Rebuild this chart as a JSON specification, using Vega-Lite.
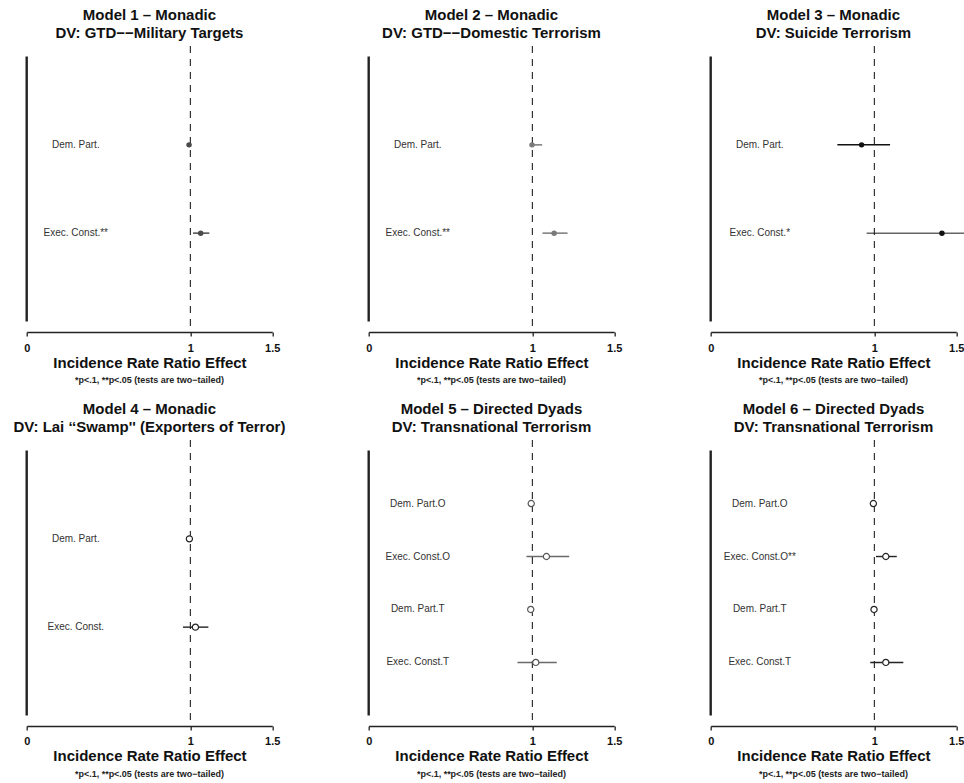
{
  "$schema": "https://vega.github.io/schema/vega-lite/v6.json",
  "background": "white",
  "padding": {"left": 12.7, "top": 8, "right": 0, "bottom": 0},
  "datasets": {
    "est": [
      {"model": 1, "label": "Dem. Part.", "rank": 2, "irr": 0.992, "lo": 0.986, "hi": 0.998},
      {"model": 1, "label": "Exec. Const.**", "rank": 1, "irr": 1.063, "lo": 1.016, "hi": 1.116},
      {"model": 2, "label": "Dem. Part.", "rank": 2, "irr": 0.998, "lo": 0.985, "hi": 1.06},
      {"model": 2, "label": "Exec. Const.**", "rank": 1, "irr": 1.133, "lo": 1.062, "hi": 1.215},
      {"model": 3, "label": "Dem. Part.", "rank": 2, "irr": 0.922, "lo": 0.774, "hi": 1.096},
      {"model": 3, "label": "Exec. Const.*", "rank": 1, "irr": 1.413, "lo": 0.953, "hi": 1.55},
      {"model": 4, "label": "Dem. Part.", "rank": 2, "irr": 0.994, "lo": 0.99, "hi": 0.998},
      {"model": 4, "label": "Exec. Const.", "rank": 1, "irr": 1.031, "lo": 0.955, "hi": 1.11},
      {"model": 5, "label": "Dem. Part.O", "rank": 4, "irr": 0.993, "lo": 0.985, "hi": 1.005},
      {"model": 5, "label": "Exec. Const.O", "rank": 3, "irr": 1.086, "lo": 0.964, "hi": 1.225},
      {"model": 5, "label": "Dem. Part.T", "rank": 2, "irr": 0.99, "lo": 0.984, "hi": 1.0},
      {"model": 5, "label": "Exec. Const.T", "rank": 1, "irr": 1.021, "lo": 0.909, "hi": 1.149},
      {"model": 6, "label": "Dem. Part.O", "rank": 4, "irr": 0.994, "lo": 0.99, "hi": 1.0},
      {"model": 6, "label": "Exec. Const.O**", "rank": 3, "irr": 1.07, "lo": 1.01, "hi": 1.137},
      {"model": 6, "label": "Dem. Part.T", "rank": 2, "irr": 0.998, "lo": 0.993, "hi": 1.004},
      {"model": 6, "label": "Exec. Const.T", "rank": 1, "irr": 1.07, "lo": 0.975, "hi": 1.177}
    ]
  },
  "columns": 3,
  "spacing": {"row": 108, "column": 96},
  "bounds": "flush",
  "concat": [
    {
      "width": 245.5, "height": 286,
      "title": {"text": ["Model 1 – Monadic", "DV: GTD−−Military Targets"]},
      "data": {"name": "est"},
      "transform": [{"filter": "datum.model == 1"}],
      "layer": [
        {"mark": {"type": "rule", "strokeWidth": 1.5, "color": "#4a4a4a"},
         "encoding": {"x": {"field": "lo", "type": "quantitative", "title": "Incidence Rate Ratio Effect", "scale": {"domain": [0, 1.5], "nice": false, "zero": false}, "axis": {"values": [0, 1, 1.5], "format": "~g"}},
                      "x2": {"field": "hi"},
                      "y": {"field": "rank", "type": "quantitative", "scale": {"domain": [-0.12, 3.12], "nice": false, "zero": false}, "axis": null}}},
        {"data": {"values": [{}]}, "mark": {"type": "rule", "strokeDash": [7, 6], "color": "#222", "strokeWidth": 1.1},
         "encoding": {"x": {"datum": 1, "type": "quantitative"}}},
        {"data": {"values": [{}]}, "mark": {"type": "rule", "color": "#222", "strokeWidth": 2.4},
         "encoding": {"x": {"datum": 0, "type": "quantitative"}, "y": {"datum": 0, "type": "quantitative", "axis": null}, "y2": {"datum": 3}}},
        {"mark": {"type": "point", "shape": "circle", "filled": true, "color": "#4a4a4a", "size": 30, "opacity": 1},
         "encoding": {"x": {"field": "irr", "type": "quantitative"}, "y": {"field": "rank", "type": "quantitative", "axis": null}}},
        {"mark": {"type": "text", "fontSize": 10, "color": "#333", "align": "center", "baseline": "middle"},
         "encoding": {"x": {"datum": 0.3, "type": "quantitative"}, "y": {"field": "rank", "type": "quantitative", "axis": null}, "text": {"field": "label"}}},
        {"data": {"values": [{}]}, "mark": {"type": "text", "fontSize": 9, "fontWeight": "bold", "color": "#222", "align": "center", "baseline": "middle", "dy": 48, "text": "*p<.1, **p<.05 (tests are two−tailed)"},
         "encoding": {"x": {"datum": 0.75, "type": "quantitative"}, "y": {"datum": -0.12, "type": "quantitative", "axis": null}}}
      ]
    },
    {
      "width": 245.5, "height": 286,
      "title": {"text": ["Model 2 – Monadic", "DV: GTD−−Domestic Terrorism"]},
      "data": {"name": "est"},
      "transform": [{"filter": "datum.model == 2"}],
      "layer": [
        {"mark": {"type": "rule", "strokeWidth": 1.5, "color": "#7a7a7a"},
         "encoding": {"x": {"field": "lo", "type": "quantitative", "title": "Incidence Rate Ratio Effect", "scale": {"domain": [0, 1.5], "nice": false, "zero": false}, "axis": {"values": [0, 1, 1.5], "format": "~g"}},
                      "x2": {"field": "hi"},
                      "y": {"field": "rank", "type": "quantitative", "scale": {"domain": [-0.12, 3.12], "nice": false, "zero": false}, "axis": null}}},
        {"data": {"values": [{}]}, "mark": {"type": "rule", "strokeDash": [7, 6], "color": "#222", "strokeWidth": 1.1},
         "encoding": {"x": {"datum": 1, "type": "quantitative"}}},
        {"data": {"values": [{}]}, "mark": {"type": "rule", "color": "#222", "strokeWidth": 2.4},
         "encoding": {"x": {"datum": 0, "type": "quantitative"}, "y": {"datum": 0, "type": "quantitative", "axis": null}, "y2": {"datum": 3}}},
        {"mark": {"type": "point", "shape": "circle", "filled": true, "color": "#7a7a7a", "size": 30, "opacity": 1},
         "encoding": {"x": {"field": "irr", "type": "quantitative"}, "y": {"field": "rank", "type": "quantitative", "axis": null}}},
        {"mark": {"type": "text", "fontSize": 10, "color": "#333", "align": "center", "baseline": "middle"},
         "encoding": {"x": {"datum": 0.3, "type": "quantitative"}, "y": {"field": "rank", "type": "quantitative", "axis": null}, "text": {"field": "label"}}},
        {"data": {"values": [{}]}, "mark": {"type": "text", "fontSize": 9, "fontWeight": "bold", "color": "#222", "align": "center", "baseline": "middle", "dy": 48, "text": "*p<.1, **p<.05 (tests are two−tailed)"},
         "encoding": {"x": {"datum": 0.75, "type": "quantitative"}, "y": {"datum": -0.12, "type": "quantitative", "axis": null}}}
      ]
    },
    {
      "width": 245.5, "height": 286,
      "title": {"text": ["Model 3 – Monadic", "DV: Suicide Terrorism"]},
      "data": {"name": "est"},
      "transform": [{"filter": "datum.model == 3"}],
      "layer": [
        {"mark": {"type": "rule", "strokeWidth": 1.5},
         "encoding": {"x": {"field": "lo", "type": "quantitative", "title": "Incidence Rate Ratio Effect", "scale": {"domain": [0, 1.5], "nice": false, "zero": false}, "axis": {"values": [0, 1, 1.5], "format": "~g"}},
                      "x2": {"field": "hi"},
                      "y": {"field": "rank", "type": "quantitative", "scale": {"domain": [-0.12, 3.12], "nice": false, "zero": false}, "axis": null},
                      "color": {"condition": {"test": "indexof(datum.label, 'Exec') == 0", "value": "#666"}, "value": "#111"}}},
        {"data": {"values": [{}]}, "mark": {"type": "rule", "strokeDash": [7, 6], "color": "#222", "strokeWidth": 1.1},
         "encoding": {"x": {"datum": 1, "type": "quantitative"}}},
        {"data": {"values": [{}]}, "mark": {"type": "rule", "color": "#222", "strokeWidth": 2.4},
         "encoding": {"x": {"datum": 0, "type": "quantitative"}, "y": {"datum": 0, "type": "quantitative", "axis": null}, "y2": {"datum": 3}}},
        {"mark": {"type": "point", "shape": "circle", "filled": true, "color": "#111", "size": 30, "opacity": 1},
         "encoding": {"x": {"field": "irr", "type": "quantitative"}, "y": {"field": "rank", "type": "quantitative", "axis": null}}},
        {"mark": {"type": "text", "fontSize": 10, "color": "#333", "align": "center", "baseline": "middle"},
         "encoding": {"x": {"datum": 0.3, "type": "quantitative"}, "y": {"field": "rank", "type": "quantitative", "axis": null}, "text": {"field": "label"}}},
        {"data": {"values": [{}]}, "mark": {"type": "text", "fontSize": 9, "fontWeight": "bold", "color": "#222", "align": "center", "baseline": "middle", "dy": 48, "text": "*p<.1, **p<.05 (tests are two−tailed)"},
         "encoding": {"x": {"datum": 0.75, "type": "quantitative"}, "y": {"datum": -0.12, "type": "quantitative", "axis": null}}}
      ]
    },
    {
      "width": 245.5, "height": 286,
      "title": {"text": ["Model 4 – Monadic", "DV: Lai ‘‘Swamp'' (Exporters of Terror)"]},
      "data": {"name": "est"},
      "transform": [{"filter": "datum.model == 4"}],
      "layer": [
        {"mark": {"type": "rule", "strokeWidth": 1.4, "color": "#222"},
         "encoding": {"x": {"field": "lo", "type": "quantitative", "title": "Incidence Rate Ratio Effect", "scale": {"domain": [0, 1.5], "nice": false, "zero": false}, "axis": {"values": [0, 1, 1.5], "format": "~g"}},
                      "x2": {"field": "hi"},
                      "y": {"field": "rank", "type": "quantitative", "scale": {"domain": [-0.12, 3.12], "nice": false, "zero": false}, "axis": null}}},
        {"data": {"values": [{}]}, "mark": {"type": "rule", "strokeDash": [7, 6], "color": "#222", "strokeWidth": 1.1},
         "encoding": {"x": {"datum": 1, "type": "quantitative"}}},
        {"data": {"values": [{}]}, "mark": {"type": "rule", "color": "#222", "strokeWidth": 2.4},
         "encoding": {"x": {"datum": 0, "type": "quantitative"}, "y": {"datum": 0, "type": "quantitative", "axis": null}, "y2": {"datum": 3}}},
        {"mark": {"type": "point", "shape": "circle", "filled": true, "fill": "white", "stroke": "#222", "strokeWidth": 1.2, "size": 38, "opacity": 1},
         "encoding": {"x": {"field": "irr", "type": "quantitative"}, "y": {"field": "rank", "type": "quantitative", "axis": null}}},
        {"mark": {"type": "text", "fontSize": 10, "color": "#333", "align": "center", "baseline": "middle"},
         "encoding": {"x": {"datum": 0.3, "type": "quantitative"}, "y": {"field": "rank", "type": "quantitative", "axis": null}, "text": {"field": "label"}}},
        {"data": {"values": [{}]}, "mark": {"type": "text", "fontSize": 9, "fontWeight": "bold", "color": "#222", "align": "center", "baseline": "middle", "dy": 48, "text": "*p<.1, **p<.05 (tests are two−tailed)"},
         "encoding": {"x": {"datum": 0.75, "type": "quantitative"}, "y": {"datum": -0.12, "type": "quantitative", "axis": null}}}
      ]
    },
    {
      "width": 245.5, "height": 286,
      "title": {"text": ["Model 5 – Directed Dyads", "DV: Transnational Terrorism"]},
      "data": {"name": "est"},
      "transform": [{"filter": "datum.model == 5"}],
      "layer": [
        {"mark": {"type": "rule", "strokeWidth": 1.4, "color": "#6a6a6a"},
         "encoding": {"x": {"field": "lo", "type": "quantitative", "title": "Incidence Rate Ratio Effect", "scale": {"domain": [0, 1.5], "nice": false, "zero": false}, "axis": {"values": [0, 1, 1.5], "format": "~g"}},
                      "x2": {"field": "hi"},
                      "y": {"field": "rank", "type": "quantitative", "scale": {"domain": [-0.2, 5.2], "nice": false, "zero": false}, "axis": null}}},
        {"data": {"values": [{}]}, "mark": {"type": "rule", "strokeDash": [7, 6], "color": "#222", "strokeWidth": 1.1},
         "encoding": {"x": {"datum": 1, "type": "quantitative"}}},
        {"data": {"values": [{}]}, "mark": {"type": "rule", "color": "#222", "strokeWidth": 2.4},
         "encoding": {"x": {"datum": 0, "type": "quantitative"}, "y": {"datum": 0, "type": "quantitative", "axis": null}, "y2": {"datum": 5}}},
        {"mark": {"type": "point", "shape": "circle", "filled": true, "fill": "white", "stroke": "#555", "strokeWidth": 1.2, "size": 38, "opacity": 1},
         "encoding": {"x": {"field": "irr", "type": "quantitative"}, "y": {"field": "rank", "type": "quantitative", "axis": null}}},
        {"mark": {"type": "text", "fontSize": 10, "color": "#333", "align": "center", "baseline": "middle"},
         "encoding": {"x": {"datum": 0.3, "type": "quantitative"}, "y": {"field": "rank", "type": "quantitative", "axis": null}, "text": {"field": "label"}}},
        {"data": {"values": [{}]}, "mark": {"type": "text", "fontSize": 9, "fontWeight": "bold", "color": "#222", "align": "center", "baseline": "middle", "dy": 48, "text": "*p<.1, **p<.05 (tests are two−tailed)"},
         "encoding": {"x": {"datum": 0.75, "type": "quantitative"}, "y": {"datum": -0.2, "type": "quantitative", "axis": null}}}
      ]
    },
    {
      "width": 245.5, "height": 286,
      "title": {"text": ["Model 6 – Directed Dyads", "DV: Transnational Terrorism"]},
      "data": {"name": "est"},
      "transform": [{"filter": "datum.model == 6"}],
      "layer": [
        {"mark": {"type": "rule", "strokeWidth": 1.4, "color": "#222"},
         "encoding": {"x": {"field": "lo", "type": "quantitative", "title": "Incidence Rate Ratio Effect", "scale": {"domain": [0, 1.5], "nice": false, "zero": false}, "axis": {"values": [0, 1, 1.5], "format": "~g"}},
                      "x2": {"field": "hi"},
                      "y": {"field": "rank", "type": "quantitative", "scale": {"domain": [-0.2, 5.2], "nice": false, "zero": false}, "axis": null}}},
        {"data": {"values": [{}]}, "mark": {"type": "rule", "strokeDash": [7, 6], "color": "#222", "strokeWidth": 1.1},
         "encoding": {"x": {"datum": 1, "type": "quantitative"}}},
        {"data": {"values": [{}]}, "mark": {"type": "rule", "color": "#222", "strokeWidth": 2.4},
         "encoding": {"x": {"datum": 0, "type": "quantitative"}, "y": {"datum": 0, "type": "quantitative", "axis": null}, "y2": {"datum": 5}}},
        {"mark": {"type": "point", "shape": "circle", "filled": true, "fill": "white", "stroke": "#222", "strokeWidth": 1.2, "size": 38, "opacity": 1},
         "encoding": {"x": {"field": "irr", "type": "quantitative"}, "y": {"field": "rank", "type": "quantitative", "axis": null}}},
        {"mark": {"type": "text", "fontSize": 10, "color": "#333", "align": "center", "baseline": "middle"},
         "encoding": {"x": {"datum": 0.3, "type": "quantitative"}, "y": {"field": "rank", "type": "quantitative", "axis": null}, "text": {"field": "label"}}},
        {"data": {"values": [{}]}, "mark": {"type": "text", "fontSize": 9, "fontWeight": "bold", "color": "#222", "align": "center", "baseline": "middle", "dy": 48, "text": "*p<.1, **p<.05 (tests are two−tailed)"},
         "encoding": {"x": {"datum": 0.75, "type": "quantitative"}, "y": {"datum": -0.2, "type": "quantitative", "axis": null}}}
      ]
    }
  ],
  "config": {
    "font": "Liberation Sans",
    "view": {"stroke": null},
    "title": {"fontSize": 15, "fontWeight": "bold", "lineHeight": 18, "offset": 4, "color": "#111", "anchor": "middle"},
    "axisX": {"grid": false, "domainColor": "#222", "domainWidth": 1.3, "tickColor": "#222", "tickWidth": 1.3, "tickSize": 4,
              "labelFontSize": 11, "labelFontWeight": "bold", "labelColor": "#111", "labelPadding": 6, "labelFlush": false, "labelOverlap": false,
              "titleFontSize": 15, "titleFontWeight": "bold", "titleColor": "#111", "titlePadding": 2}
  }
}
